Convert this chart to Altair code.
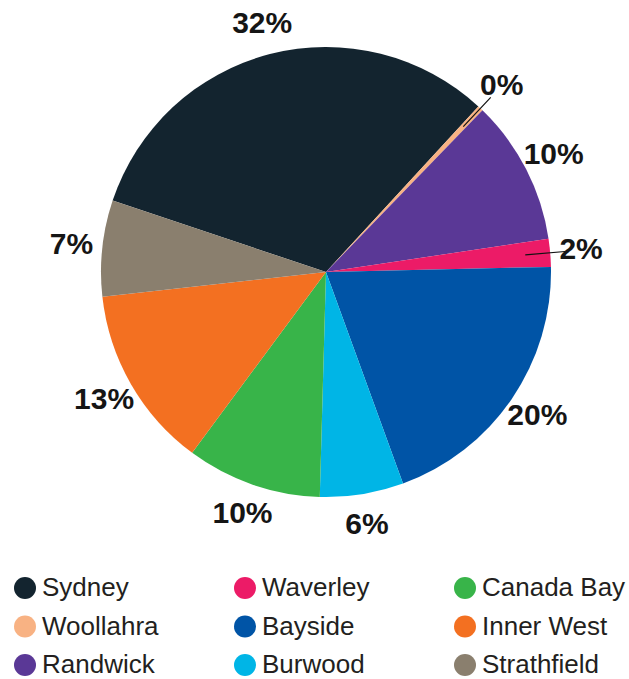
import math
import altair as alt
import pandas as pd

# ---- data ----
councils = ["Sydney", "Woollahra", "Randwick", "Waverley", "Bayside",
            "Burwood", "Canada Bay", "Inner West", "Strathfield"]
shares = [31.7, 0.4, 10.4, 2.0, 19.8, 6.0, 9.7, 13.1, 6.9]
colours = ["#13242f", "#f8b283", "#5a3896", "#ec1b67", "#0054a6",
           "#00b5e6", "#38b449", "#f37021", "#8a7f6e"]

df = pd.DataFrame({"council": councils, "share": shares,
                   "order": list(range(len(councils)))})

start = math.radians(288.5)
theta_scale = alt.Scale(domain=[0, 100], range=[start, start + 2 * math.pi])
cx, cy = 326, 272

base = alt.Chart(df).transform_window(
    cum="sum(share)", sort=[alt.SortField("order")], frame=[None, 0]
).transform_calculate(
    s0="datum.cum - datum.share",
    mid="datum.cum - datum.share / 2",
    pct="datum.share / 100",
)

color = alt.Color(
    "council:N",
    scale=alt.Scale(domain=councils, range=colours),
    legend=alt.Legend(
        title=None, orient="none", legendX=12, legendY=575, columns=3,
        symbolType="circle", symbolSize=484, symbolStrokeWidth=0,
        symbolOpacity=1, labelFontSize=26, labelFont="Liberation Sans",
        labelColor="#231f20", labelOffset=4, columnPadding=46,
        rowPadding=12.5, gridAlign="all", padding=0, labelLimit=300,
    ),
)

pie = base.mark_arc(outerRadius=225).encode(
    theta=alt.Theta("s0:Q", scale=theta_scale, stack=None),
    theta2="cum:Q",
    color=color,
    x=alt.value(cx), y=alt.value(cy),
)

leaders = base.transform_filter("datum.share < 3").mark_arc(
    innerRadius=200, outerRadius=240, stroke="#111111", strokeWidth=1.2,
    fillOpacity=0,
).encode(
    theta=alt.Theta("mid:Q", scale=theta_scale, stack=None),
    theta2="mid:Q",
    x=alt.value(cx), y=alt.value(cy),
)

labels = base.mark_text(
    radius=256, fontSize=30, fontWeight="bold", font="Liberation Sans",
    color="#151515", align="center", baseline="middle",
).encode(
    theta=alt.Theta("mid:Q", scale=theta_scale, stack=None),
    text=alt.Text("pct:Q", format=".0%"),
    x=alt.value(cx), y=alt.value(cy),
)

chart = alt.layer(pie, leaders, labels).properties(
    width=629, height=679, autosize="none", padding=0, background="white",
).configure_view(stroke=None)

chart.save("out.html", embed_options={"renderer": "svg", "actions": False})
